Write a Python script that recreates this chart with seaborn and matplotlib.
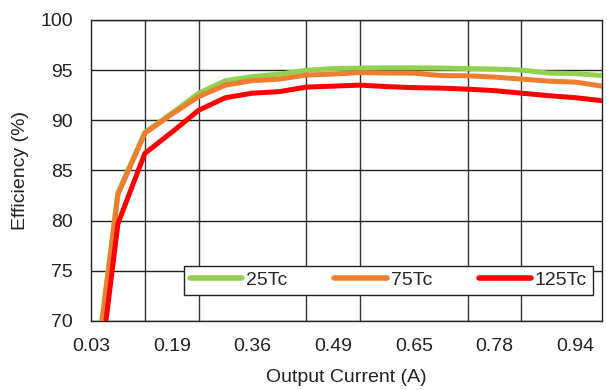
import numpy as np
import pandas as pd
import matplotlib
matplotlib.use("Agg")
import matplotlib.pyplot as plt
import seaborn as sns

# output current (A) for each measured point, evenly spaced categories
current = [0.03, 0.08, 0.13, 0.19, 0.25, 0.30, 0.36, 0.40, 0.45, 0.49,
           0.55, 0.60, 0.65, 0.69, 0.74, 0.78, 0.84, 0.89, 0.94, 1.00]

eff_25 = [61.5, 82.8, 88.8, 90.7, 92.7, 93.95, 94.35, 94.6, 94.98, 95.15,
          95.2, 95.22, 95.22, 95.2, 95.15, 95.1, 95.0, 94.7, 94.65, 94.45]
eff_75 = [61.2, 82.6, 88.7, 90.6, 92.35, 93.5, 93.95, 94.1, 94.5, 94.6,
          94.75, 94.7, 94.7, 94.45, 94.43, 94.3, 94.1, 93.9, 93.8, 93.4]
eff_125 = [57.9, 79.7, 86.7, 88.8, 91.0, 92.25, 92.7, 92.85, 93.3, 93.4,
           93.5, 93.35, 93.25, 93.2, 93.1, 92.95, 92.7, 92.45, 92.25, 91.95]

series = ["25Tc", "75Tc", "125Tc"]
colors = ["#92D050", "#ED7D31", "#FF0000"]

#build long-form table
df = pd.DataFrame({"idx": np.arange(len(current)), "25Tc": eff_25, "75Tc": eff_75, "125Tc": eff_125})
df = df.melt(id_vars="idx", var_name="temp", value_name="eff")

sns.set_style("white")
plt.rcParams["font.family"] = ["Liberation Sans", "DejaVu Sans"]

fig, ax = plt.subplots(figsize=(6.07, 3.90), dpi=100)
fig.subplots_adjust(left=0.150, right=0.992, top=0.949, bottom=0.177)

sns.lineplot(data=df, x="idx", y="eff", hue="temp", hue_order=series,
             palette=colors, linewidth=3.6, ax=ax, zorder=3)

n = len(current)
ax.set_xlim(0, n - 1)
ax.set_ylim(70, 100)
ax.set_yticks(np.arange(70, 101, 5))

#labels every 3rd point, gridlines every 2nd point (category axis style)
ax.set_xticks(range(0, n, 3))
ax.set_xticklabels([f"{current[i]:.2f}" for i in range(0, n, 3)])
ax.set_xticks(range(0, n, 2), minor=True)
ax.grid(False)
ax.grid(True, which="minor", axis="x", color="#333333", linewidth=1.0)
ax.grid(True, which="major", axis="y", color="#222222", linewidth=1.0)

ax.tick_params(axis="both", which="both", length=0, labelsize=14, colors="#222222")
ax.tick_params(axis="x", pad=12)
ax.tick_params(axis="y", pad=13)
for s in ax.spines.values():
    s.set_color("#222222")
    s.set_linewidth(1.0)

ax.set_xlabel("Output Current (A)", fontsize=14, color="#222222", labelpad=10)
ax.set_ylabel("Efficiency (%)", fontsize=14, color="#222222", labelpad=8)

leg = ax.legend(ncol=3, loc="lower left", bbox_to_anchor=(0.182, 0.086, 0.80, 0.11),
                mode="expand", borderaxespad=0, fontsize=14, frameon=True,
                fancybox=False, framealpha=1, edgecolor="#222222",
                handlelength=2.7, handletextpad=0.2, columnspacing=1.3,
                borderpad=0.3)
leg.get_frame().set_linewidth(1.0)
for line in leg.get_lines():
    line.set_linewidth(4)
    line.set_solid_capstyle("round")

plt.savefig("out.png", dpi=100)
